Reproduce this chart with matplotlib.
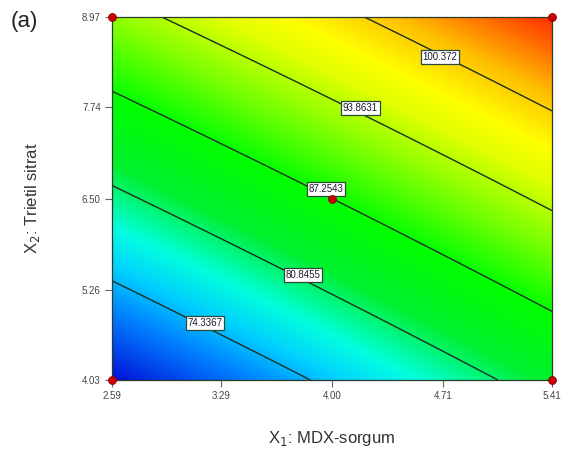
import numpy as np
import matplotlib
matplotlib.use("Agg")
import matplotlib.pyplot as plt
from matplotlib.colors import LinearSegmentedColormap

plt.rcParams['font.family'] = ['Liberation Sans', 'DejaVu Sans']

# ---- data ----
x1_range = [2.59, 5.41]          # X1: MDX-sorgum
x2_range = [4.03, 8.97]          # X2: Trietil sitrat
x_ticks = [2.59, 3.29, 4.00, 4.71, 5.41]
y_ticks = [4.03, 5.26, 6.50, 7.74, 8.97]
x_tick_labels = ["2.59", "3.29", "4.00", "4.71", "5.41"]
y_tick_labels = ["4.03", "5.26", "6.50", "7.74", "8.97"]
levels = [74.3367, 80.8455, 87.2543, 93.8631, 100.372]
# response model in coded units: b0, b1 (x1), b2 (x2), b12, b11, b22
coef = [87.2543, 7.35, 12.12, -0.25, 0.05, -0.05]
design_x1 = [2.59, 5.41, 2.59, 5.41, 4.00]
design_x2 = [4.03, 4.03, 8.97, 8.97, 6.50]
label_pos = [(3.186, 4.806), (3.814, 5.459), (3.962, 6.629), (4.18, 7.73), (4.692, 8.426)]

# ---- surface ----
xc = (x1_range[0] + x1_range[1]) / 2
yc = (x2_range[0] + x2_range[1]) / 2
xh = (x1_range[1] - x1_range[0]) / 2
yh = (x2_range[1] - x2_range[0]) / 2
gx = np.linspace(x1_range[0], x1_range[1], 300)
gy = np.linspace(x2_range[0], x2_range[1], 300)
X, Y = np.meshgrid(gx, gy)
A = (X - xc) / xh
B = (Y - yc) / yh
Z = coef[0] + coef[1]*A + coef[2]*B + coef[3]*A*B + coef[4]*A**2 + coef[5]*B**2

cmap = LinearSegmentedColormap.from_list(
    "de", [(0.0, "#0010d8"), (0.12, "#0080ff"), (0.2, "#00d0ff"), (0.27, "#00ffe0"),
           (0.38, "#00f030"), (0.5, "#00ff00"), (0.62, "#80ff00"), (0.72, "#e0ff00"),
           (0.78, "#ffff00"), (0.87, "#ffc000"), (1.0, "#ff3000")])

fig = plt.figure(figsize=(5.67, 4.55), dpi=100)
ax = fig.add_axes([0.1975, 0.1648, 0.776, 0.7978])
ax.pcolormesh(X, Y, Z, cmap=cmap, shading='gouraud', rasterized=True)
cs = ax.contour(X, Y, Z, levels=levels, colors='#1a3020', linewidths=1.0)
for lv, (px, py) in zip(levels, label_pos):
    ax.text(px, py, f"{lv:g}", fontsize=7, color='#1a1a2a', ha='center', va='center',
            zorder=5,
            bbox=dict(boxstyle='square,pad=0.2', fc='white', ec='#2a4a3a', lw=0.9))

ax.scatter(design_x1, design_x2, s=32, c='#cc0000', edgecolors='#880000',
           linewidths=0.6, zorder=6, clip_on=False)

ax.set_xlim(x1_range)
ax.set_ylim(x2_range)
ax.set_xticks(x_ticks)
ax.set_xticklabels(x_tick_labels)
ax.set_yticks(y_ticks)
ax.set_yticklabels(y_tick_labels)
ax.tick_params(axis='both', direction='out', length=5, width=0.8, color='#666666',
               labelsize=7, labelcolor='#444444', pad=3)
for s in ax.spines.values():
    s.set_color('#2a3a2a')
    s.set_linewidth(0.9)

ax.set_xlabel("X$_1$: MDX-sorgum", fontsize=12, color='#333333', labelpad=20)
ax.set_ylabel("X$_2$: Trietil sitrat", fontsize=12, color='#333333', labelpad=29)
fig.text(0.018, 0.952, "(a)", fontsize=16, color='#222222', ha='left', va='center')

fig.savefig("out.png", dpi=100)
